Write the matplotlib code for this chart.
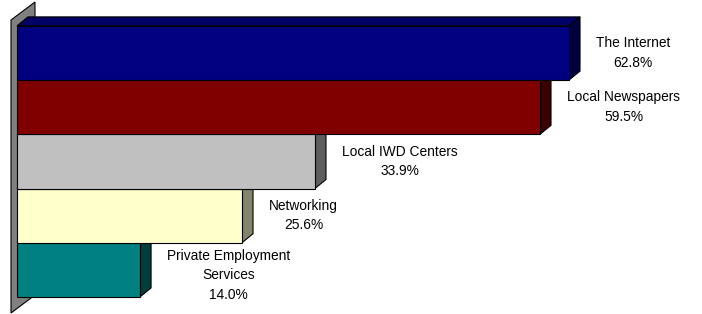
import matplotlib
matplotlib.use("Agg")
import matplotlib.pyplot as plt
from matplotlib.patches import Polygon

# survey answers, top bar first
categories = ["The Internet", "Local Newspapers", "Local IWD Centers",
              "Networking", "Private Employment\nServices"]
shares = [62.8, 59.5, 33.9, 25.6, 14.0]

front_colors = ["#000080", "#800000", "#C0C0C0", "#FFFFCC", "#008080"]
top_colors = ["#000066", "#660000", "#999999", "#CCCCA3", "#006666"]
side_colors = ["#00003D", "#3D0000", "#5E5E5E", "#84846A", "#003D3D"]

W, H = 702, 314
px_per_pct = 8.79      # horizontal scale
px_per_cat = 54.2      # one bar per category, no gap
x0_px, y0_px = 17, 53  # pixel of value 0 / centre of first bar
font_size = 9.9
line_sp = 1.5

fig = plt.figure(figsize=(W / 100, H / 100), dpi=100)
ax = fig.add_axes([0, 0, 1, 1])
ax.set_xlim(-x0_px / px_per_pct, (W - x0_px) / px_per_pct)
ax.set_ylim((H - y0_px) / px_per_cat, -y0_px / px_per_cat)
ax.axis("off")

def px(dx, dy):
    # pixel offsets -> data offsets
    return dx / px_per_pct, dy / px_per_cat

dx, dy = px(11, 9)   # bar depth

# side wall
wx0, _ = px(-6, 0)
wx1, _ = px(18, 0)
wall = [(wx0, (20 - y0_px) / px_per_cat), (wx1, (2 - y0_px) / px_per_cat),
        (wx1, (295 - y0_px) / px_per_cat), (wx0, (313 - y0_px) / px_per_cat)]
ax.add_patch(Polygon(wall, closed=True, fc="#808080", ec="black", lw=0.8, zorder=1))

n = len(shares)
for i in reversed(range(n)):
    v = shares[i]
    z = 10 + 3 * (n - i)
    top, bot = i - 0.5, i + 0.5
    ax.add_patch(Polygon([(0, top), (dx, top - dy), (v + dx, top - dy), (v, top)],
                         closed=True, fc=top_colors[i], ec="black", lw=0.8, zorder=z))
    ax.add_patch(Polygon([(v, top), (v + dx, top - dy), (v + dx, bot - dy), (v, bot)],
                         closed=True, fc=side_colors[i], ec="black", lw=0.8, zorder=z))
    ax.barh(i, v, height=1, left=0, color=front_colors[i], edgecolor="black",
            linewidth=0.8, zorder=z + 1)

    label = "{}\n{:.1f}%".format(categories[i], v)
    pad, _ = px(16, 0)
    # labels taller than the bar get pushed down below the bar above
    n_lines = label.count("\n") + 1
    if n_lines * font_size * 100 / 72 * line_sp > px_per_cat:
        ty, va = top + px(0, 6)[1], "top"
    else:
        ty, va = i, "center"
    ax.text(v + dx + pad, ty, label, ha="left", va=va, multialignment="center",
            fontsize=font_size, family="Liberation Sans", linespacing=line_sp,
            zorder=50)

fig.savefig("out.png", dpi=100)
